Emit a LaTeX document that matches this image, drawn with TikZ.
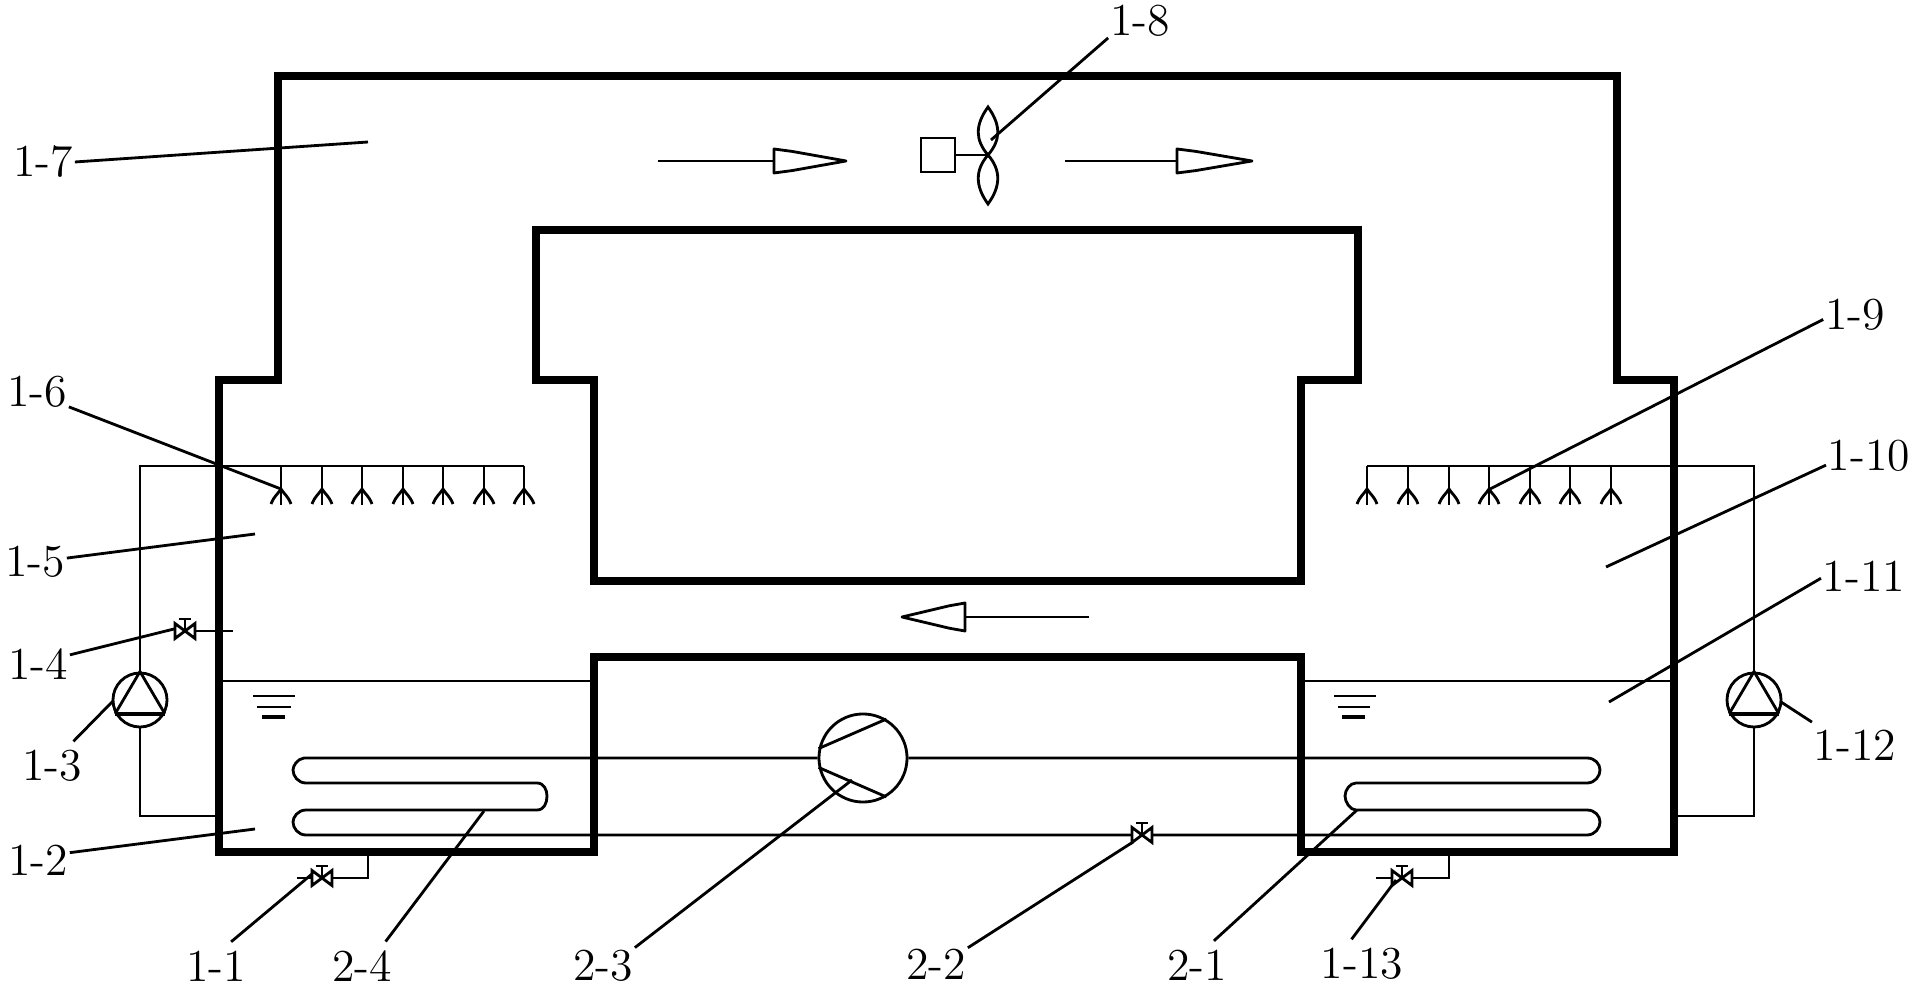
\documentclass[tikz,border=0pt]{standalone}
\usepackage{tikz}
\usetikzlibrary{calc,positioning}
\tikzset{
  wall/.style={line width=0.08cm},
  pipe/.style={line width=0.8pt},
  leader/.style={line width=0.8pt},
  tag/.style={inner xsep=0.02cm, inner ysep=0.09cm, outer sep=0pt, font=\fontsize{13}{13}\selectfont},
  pump/.style={draw, pipe, circle, minimum size=0.54cm, inner sep=0pt},
}
\newcommand{\ValveMark}[1]{\begin{scope}[shift={(#1)}]
    \draw[pipe, fill=white] (-10,-7.5) -- (-10,7.5) -- (10,-7.5) -- (10,7.5) -- cycle;
    \draw[pipe] (0,0) -- (0,-12) (-6,-12) -- (6,-12);
  \end{scope}}
\newcommand{\NozzleMark}[1]{\begin{scope}[shift={(#1,466)}]
    \draw[pipe] (0,0) -- (0,39);
    \draw[pipe] (0,23) .. controls (-3,28) and (-7,30) .. (-10,38);
    \draw[pipe] (0,23) .. controls (3,28) and (7,30) .. (10,38);
  \end{scope}}
\newcommand{\FlowHead}[4]{\draw[pipe, fill=white, line join=round] (#1,#3-#4) -- (#1,#3+#4)
  -- (#1+0.25*#2-0.25*#1,#3+0.8*#4) -- (#2,#3) -- (#1+0.25*#2-0.25*#1,#3-0.8*#4) -- cycle;}

\begin{document}
\begin{tikzpicture}[x=0.01cm, y=-0.01cm]
  \useasboundingbox (0,0) rectangle (1919,989);

  % duct
  \draw[wall] (278,76) -- (1617,76) -- (1617,380) -- (1674,380) -- (1674,852) -- (1301,852)
  -- (1301,657) -- (594,657) -- (594,852) -- (219,852) -- (219,380) -- (278,380) -- cycle;
  \draw[wall] (536,230) -- (1358,230) -- (1358,380) -- (1301,380) -- (1301,581) -- (594,581)
  -- (594,380) -- (536,380) -- cycle;

  % water level
  \draw[pipe] (219,681) -- (594,681) (1301,681) -- (1674,681);
  \foreach \xa/\xb/\xc in {253/295/696, 257/291/707, 1334/1376/696, 1338/1370/707}
  {\draw[pipe] (\xa,\xc) -- (\xb,\xc);}
  \draw[line width=1pt] (262,717) -- (285,717) (1342,717) -- (1365,717);

  % pumps and spray pipes
  \node[pump] (pumpL) at (140,700) {};
  \node[pump] (pumpR) at (1754,700) {};
  \coordinate (sprayL) at (524,466);
  \coordinate (sprayR) at (1367,466);
  \coordinate (backL) at (219,816);
  \coordinate (backR) at (1674,816);
  \draw[pipe] (pumpL.north) |- (sprayL);
  \draw[pipe] (pumpR.north) |- (sprayR);
  \draw[pipe] (pumpL.south) |- (backL);
  \draw[pipe] (pumpR.south) |- (backR);
  \draw[pipe] (pumpL.209) -- (pumpL.north) -- (pumpL.331);
  \draw[pipe] (pumpR.209) -- (pumpR.north) -- (pumpR.331);
  \draw[line width=1pt] (pumpL.209) -- (pumpL.331);
  \draw[line width=1pt] (pumpR.209) -- (pumpR.331);
  \foreach \nx in {281,322,362,403,443,484,524,1367,1408,1449,1489,1530,1570,1611}
  {\NozzleMark{\nx}}

  % refrigerant coils
  \node[pump, minimum size=0.88cm] (comp) at (863,758) {};
  \draw[pipe] (comp.168) -- (comp.59) (comp.192) -- (comp.-59);
  \draw[pipe] (comp.west) -- (304,758) .. controls (297,759) and (293,766) .. (293,770)
  .. controls (293,776) and (298,783) .. (306,783) -- (537,783)
  .. controls (544,783) and (547,790) .. (547,796) .. controls (547,803) and (544,810) .. (537,810)
  -- (306,810) .. controls (298,810) and (293,817) .. (293,822) .. controls (293,828) and (298,835) .. (306,835)
  -- (1587,835) .. controls (1595,835) and (1600,828) .. (1600,822) .. controls (1600,816) and (1595,810) .. (1587,810)
  -- (1356,810) .. controls (1350,810) and (1345,802) .. (1345,796) .. controls (1345,790) and (1350,783) .. (1356,783)
  -- (1587,783) .. controls (1595,783) and (1600,776) .. (1600,770) .. controls (1600,764) and (1595,758) .. (1587,758)
  -- (comp.east);

  % valves
  \draw[pipe] (297,878) -- (368,878) -- (368,852);
  \draw[pipe] (1376,878) -- (1449,878) -- (1449,852);
  \draw[pipe] (185,631) -- (233,631);
  \ValveMark{322,878}
  \ValveMark{1402,878}
  \ValveMark{185,631}
  \ValveMark{1142,835}

  % fan
  \node[draw, pipe, minimum width=0.34cm, minimum height=0.34cm, inner sep=0pt] (motor) at (938,155) {};
  \coordinate (hub) at (988,155);
  \draw[pipe] (motor.east) -- (hub);
  \draw[pipe] (hub) .. controls (975,140) and (975,125) .. (988,107) .. controls (1001,125) and (1001,140) .. (hub);
  \draw[pipe] (hub) .. controls (975,170) and (975,186) .. (988,204) .. controls (1001,186) and (1001,170) .. (hub);

  % air flow
  \draw[pipe] (658,161) -- (774,161);
  \FlowHead{774}{846}{161}{12}
  \draw[pipe] (1065,161) -- (1177,161);
  \FlowHead{1177}{1252}{161}{12}
  \draw[pipe] (1089,617) -- (965,617);
  \FlowHead{965}{902}{617}{14}

  % labels
  \foreach \tname/\tx/\ty/\ttext/\tang/\ex/\ey in {
    t11/216/966/1-1/58/312/874, t12/38/860/1-2/13/255/829, t13/52/766/1-3/49/113/701,
    t14/38/664/1-4/16/174/629, t15/35/562/1-5/7/255/534, t16/37/392/1-6/-25/281/489,
    t17/43/162/1-7/0/368/142, t18/1140/21/1-8/208/991/140, t19/1855/315/1-9/188/1490/489,
    t110/1869/456/1-10/192/1606/567, t111/1864/576/1-11/183/1609/702, t112/1855/745/1-12/152/1781/702,
    t113/1362/964/1-13/113/1396/880, t21/1197/965/2-1/55/1357/810, t22/936/964/2-2/27/1133/842,
    t23/603/966/2-3/30/852/780, t24/362/966/2-4/46/484/811}
  {
    \node[tag] (\tname) at (\tx,\ty) {\ttext};
    \coordinate (\tname end) at (\ex,\ey);
    \draw[leader] (\tname.\tang) -- (\tname end);
  }
\end{tikzpicture}
\end{document}
